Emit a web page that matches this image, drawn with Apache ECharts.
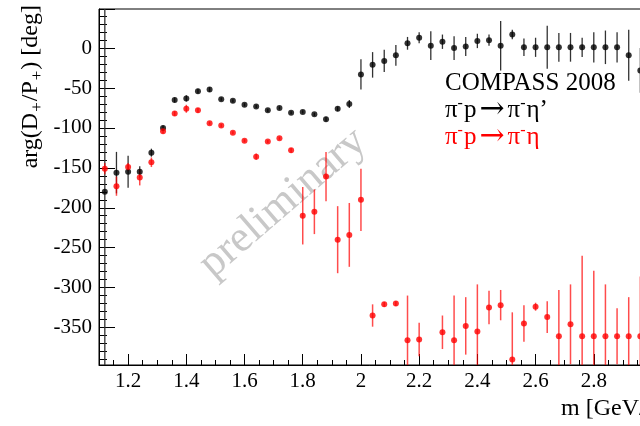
<!DOCTYPE html>
<html>
<head>
<meta charset="utf-8">
<script src="https://cdn.jsdelivr.net/npm/echarts@6/dist/echarts.min.js"></script>
<style>
html,body{margin:0;padding:0;background:#fff;}
#chart{width:640px;height:426px;}
</style>
</head>
<body>
<div id="chart"></div>
<script>
// bin centres [GeV]
const masses = [1.12,1.16,1.20,1.24,1.28,1.32,1.36,1.40,1.44,1.48,1.52,1.56,1.60,1.64,1.68,1.72,1.76,1.80,1.84,1.88,1.92,1.96,2.00,2.04,2.08,2.12,2.16,2.20,2.24,2.28,2.32,2.36,2.40,2.44,2.48,2.52,2.56,2.60,2.64,2.68,2.72,2.76,2.80,2.84,2.88,2.92,2.96];
// pi- p -> pi- eta' (black)
const etaPrimePhase = [-180,-156,-155,-155,-131,-100,-65,-63,-54,-52,-64,-66,-71,-73,-78,-75,-81,-80,-83,-89,-76,-70,-33,-21,-16,-9,6,13,3,8,0,2,9,10,3,17,1,1,1,1,1,1,1,1,1,-9,-28];
const etaPrimeErr   = [400,26,20,7,5,3,3,4,3,3,2,2,2,2,2,2,2,2,2,3,3,5,19,16,14,13,8,7,18,9,15,12,9,7,31,6,11,12,27,18,18,12,19,21,19,32,28];
// pi- p -> pi- eta (red)
const etaPhase = [-151,-173,-149,-162,-143,-104,-82,-76,-78,-94,-97,-106,-116,-136,-117,-113,-128,-210,-205,-161,-240,-234,-190,-335,-321,-320,-366,-365,null,-356,-366,-348,-355,-325,-322,-390,-345,-324,-337,-361,-346,-361,-361,-361,-361,-361,-361];
const etaErr   = [7,12,5,10,6,3,3,5,3,2,2,2,2,4,2,2,3,36,28,31,42,40,39,14,3,3,56,21,null,21,56,36,59,21,19,59,23,5,20,58,50,101,82,65,35,49,75];

const legendTitle = 'COMPASS 2008';
const legendEtaPrime = '{n|π}{sup|-}{n|p}{ar|→}{n|π}{sup|-}{n|η’}';
const legendEta = '{n|π}{sup|-}{n|p}{ar|→}{n|π}{sup|-}{n|η}';
const yTitle = '{n|arg(D}{sub|+}{n|/P}{sub|+}{n|) [deg]}';
const xTitle = 'm [GeV/c²]';
const watermark = 'preliminary';

const FONT = '"Liberation Serif", "DejaVu Serif", serif';

function pts(vals) {
  const out = [];
  masses.forEach((m, i) => { if (vals[i] != null) out.push([m, vals[i]]); });
  return out;
}
function bars(vals, errs) {
  const out = [];
  masses.forEach((m, i) => { if (vals[i] != null) out.push([m, vals[i] - errs[i], vals[i] + errs[i]]); });
  return out;
}
function errSeries(vals, errs, color, width) {
  return {
    type: 'custom',
    data: bars(vals, errs),
    encode: { x: 0, y: [1, 2] },
    clip: true,
    silent: true,
    z: 3,
    renderItem: function (params, api) {
      const x = api.value(0);
      const p1 = api.coord([x, api.value(1)]);
      const p2 = api.coord([x, api.value(2)]);
      return {
        type: 'line',
        shape: { x1: p1[0], y1: p1[1], x2: p2[0], y2: p2[1] },
        style: { stroke: color, lineWidth: width }
      };
    }
  };
}
function legendRich(color) {
  return {
    n: { fontFamily: FONT, fontSize: 25, lineHeight: 28, fill: color, verticalAlign: 'middle' },
    sup: { fontFamily: FONT, fontSize: 16, lineHeight: 16, fill: color, verticalAlign: 'top', padding: [0, 1, 0, 0] },
    ar: { fontFamily: '"DejaVu Serif", serif', fontSize: 30, lineHeight: 28, fill: color, verticalAlign: 'middle', padding: [0, 3, 0, 3] }
  };
}

const chart = echarts.init(document.getElementById('chart'), null, { renderer: 'canvas' });
chart.setOption({
  animation: false,
  backgroundColor: '#fff',
  grid: { left: 99, top: 9, right: -12, bottom: 61, show: true, borderColor: '#000', borderWidth: 1, containLabel: false, outerBoundsMode: 'none' },
  xAxis: {
    type: 'value', min: 1.1, max: 3.0, splitNumber: 10,
    axisLine: { show: true, onZero: false, lineStyle: { color: '#000', width: 1 } },
    axisTick: { show: true, inside: true, length: 11, lineStyle: { color: '#000' } },
    minorTick: { show: true, splitNumber: 4, length: 5, lineStyle: { color: '#000' } },
    splitLine: { show: false },
    axisLabel: { showMinLabel: false, color: '#000', fontFamily: FONT, fontSize: 21, margin: 6 }
  },
  yAxis: {
    type: 'value', min: -397, max: 49, splitNumber: 9,
    axisLine: { show: true, onZero: false, lineStyle: { color: '#000', width: 1 } },
    axisTick: { show: true, inside: true, length: 16, lineStyle: { color: '#000' } },
    minorTick: { show: true, splitNumber: 5, length: 8, lineStyle: { color: '#000' } },
    splitLine: { show: false },
    axisLabel: { showMinLabel: false, showMaxLabel: false, color: '#000', fontFamily: FONT, fontSize: 21, margin: 7 }
  },
  graphic: [
    { type: 'text', z: 0, x: 283, y: 203, rotation: 0.71,
      style: { text: watermark, fill: '#c8c8c8', font: '44px ' + FONT, align: 'center', verticalAlign: 'middle' } },
    { type: 'text', z: 10, x: 445, y: 83, style: { text: legendTitle, fill: '#000', font: '25px ' + FONT, align: 'left', verticalAlign: 'middle' } },
    { type: 'text', z: 10, x: 445, y: 110, style: { text: legendEtaPrime, fill: '#000', rich: legendRich('#000'), align: 'left', verticalAlign: 'middle' } },
    { type: 'text', z: 10, x: 445, y: 137, style: { text: legendEta, fill: '#ff0000', rich: legendRich('#ff0000'), align: 'left', verticalAlign: 'middle' } },
    { type: 'text', z: 10, x: 31, y: 5, rotation: Math.PI / 2,
      style: { text: yTitle, fill: '#000', align: 'right', verticalAlign: 'middle',
        rich: {
          n: { fontFamily: FONT, fontSize: 24, lineHeight: 30, fill: '#000', verticalAlign: 'middle' },
          sub: { fontFamily: FONT, fontSize: 17, lineHeight: 17, fill: '#000', verticalAlign: 'bottom', padding: [0, 1, 0, 1] }
        } } },
    { type: 'text', z: 10, x: 561, y: 409,
      style: { text: xTitle, fill: '#000', font: '24px ' + FONT, align: 'left', verticalAlign: 'middle' } }
  ],
  series: [
    errSeries(etaPrimePhase, etaPrimeErr, '#333333', 1.3),
    { type: 'scatter', data: pts(etaPrimePhase), symbol: 'circle', symbolSize: 6, itemStyle: { color: '#000' }, clip: true, z: 4, silent: true },
    errSeries(etaPhase, etaErr, 'rgba(255,0,0,0.7)', 1.5),
    { type: 'scatter', data: pts(etaPhase), symbol: 'circle', symbolSize: 6, itemStyle: { color: '#ff0000' }, clip: true, z: 5, silent: true }
  ]
});
</script>
</body>
</html>
